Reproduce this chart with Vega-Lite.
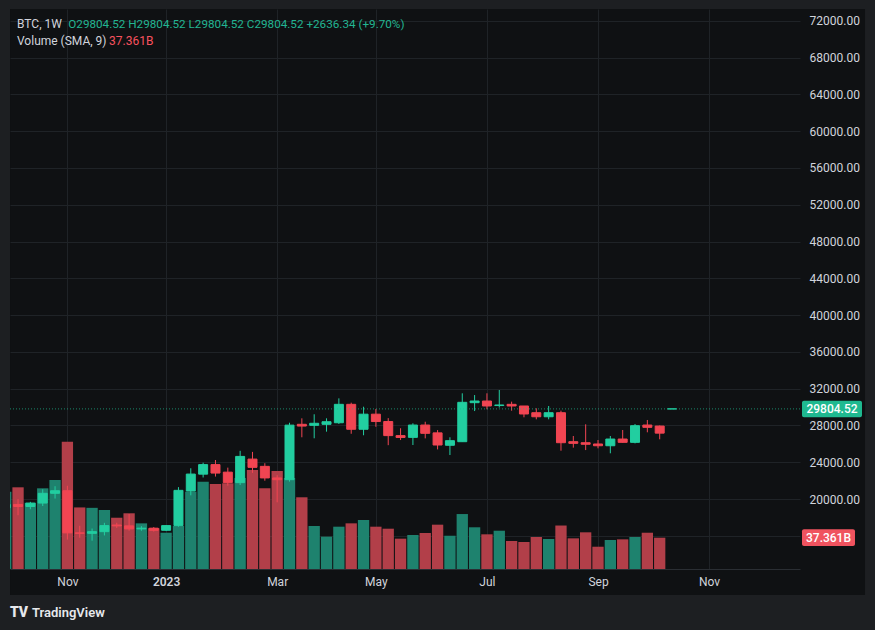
{
  "$schema": "https://vega.github.io/schema/vega-lite/v6.json",
  "width": 790,
  "height": 560,
  "autosize": {"type": "none"},
  "padding": {"left": 10, "top": 9, "right": 75, "bottom": 61},
  "background": "#0f1113",
  "config": {"view": {"stroke": null, "fill": "#0f1113"}, "scale": {"continuousPadding": 0}},
  "datasets": {
    "weekly": [
      {"date": "2022-10-03", "open": 19050, "high": 20480, "low": 19000, "close": 19420, "volume": 92.3},
      {"date": "2022-10-10", "open": 19420, "high": 20000, "low": 18250, "close": 19200, "volume": 97.5},
      {"date": "2022-10-17", "open": 19200, "high": 19700, "low": 18900, "close": 19560, "volume": 79.1},
      {"date": "2022-10-24", "open": 19570, "high": 21060, "low": 19250, "close": 20630, "volume": 96.3},
      {"date": "2022-10-31", "open": 20630, "high": 21400, "low": 20060, "close": 20910, "volume": 106.2},
      {"date": "2022-11-07", "open": 20910, "high": 21450, "low": 15600, "close": 16330, "volume": 151.9},
      {"date": "2022-11-14", "open": 16330, "high": 17100, "low": 15800, "close": 16280, "volume": 73.5},
      {"date": "2022-11-21", "open": 16280, "high": 16800, "low": 15480, "close": 16460, "volume": 73.0},
      {"date": "2022-11-28", "open": 16460, "high": 17420, "low": 16050, "close": 17120, "volume": 70.4},
      {"date": "2022-12-05", "open": 17180, "high": 17430, "low": 16870, "close": 17090, "volume": 61.2},
      {"date": "2022-12-12", "open": 17090, "high": 18380, "low": 16570, "close": 16760, "volume": 66.5},
      {"date": "2022-12-19", "open": 16760, "high": 17060, "low": 16560, "close": 16840, "volume": 54.5},
      {"date": "2022-12-26", "open": 16840, "high": 16960, "low": 16470, "close": 16610, "volume": 48.6},
      {"date": "2023-01-02", "open": 16610, "high": 17180, "low": 16520, "close": 17120, "volume": 43.3},
      {"date": "2023-01-09", "open": 17120, "high": 21300, "low": 17000, "close": 20950, "volume": 51.3},
      {"date": "2023-01-16", "open": 20880, "high": 23350, "low": 20410, "close": 22720, "volume": 92.3},
      {"date": "2023-01-23", "open": 22710, "high": 23960, "low": 22350, "close": 23750, "volume": 104.2},
      {"date": "2023-01-30", "open": 23750, "high": 24250, "low": 22450, "close": 22830, "volume": 101.5},
      {"date": "2023-02-06", "open": 22930, "high": 23420, "low": 21460, "close": 21790, "volume": 102.3},
      {"date": "2023-02-13", "open": 21790, "high": 25250, "low": 21530, "close": 24640, "volume": 108.6},
      {"date": "2023-02-20", "open": 24350, "high": 25130, "low": 22850, "close": 23450, "volume": 118.2},
      {"date": "2023-02-27", "open": 23560, "high": 23900, "low": 22000, "close": 22300, "volume": 96.3},
      {"date": "2023-03-06", "open": 22300, "high": 22600, "low": 19650, "close": 22110, "volume": 117.0},
      {"date": "2023-03-13", "open": 22110, "high": 28300, "low": 21900, "close": 28040, "volume": 108.6},
      {"date": "2023-03-20", "open": 28130, "high": 28780, "low": 26720, "close": 27940, "volume": 85.6},
      {"date": "2023-03-27", "open": 28020, "high": 29220, "low": 26610, "close": 28240, "volume": 51.3},
      {"date": "2023-04-03", "open": 28130, "high": 28780, "low": 27330, "close": 28410, "volume": 38.6},
      {"date": "2023-04-10", "open": 28300, "high": 30950, "low": 28170, "close": 30300, "volume": 50.5},
      {"date": "2023-04-17", "open": 30300, "high": 30480, "low": 27100, "close": 27590, "volume": 54.5},
      {"date": "2023-04-24", "open": 27590, "high": 30040, "low": 26940, "close": 29230, "volume": 58.5},
      {"date": "2023-05-01", "open": 29230, "high": 29800, "low": 27860, "close": 28430, "volume": 50.5},
      {"date": "2023-05-08", "open": 28430, "high": 28800, "low": 25860, "close": 26900, "volume": 48.1},
      {"date": "2023-05-15", "open": 26900, "high": 27700, "low": 26420, "close": 26700, "volume": 36.2},
      {"date": "2023-05-22", "open": 26710, "high": 28240, "low": 25880, "close": 28050, "volume": 40.6},
      {"date": "2023-05-29", "open": 28050, "high": 28410, "low": 26600, "close": 27150, "volume": 43.0},
      {"date": "2023-06-05", "open": 27200, "high": 27500, "low": 25400, "close": 25880, "volume": 52.9},
      {"date": "2023-06-12", "open": 25850, "high": 26720, "low": 24790, "close": 26350, "volume": 39.7},
      {"date": "2023-06-19", "open": 26240, "high": 31500, "low": 26240, "close": 30520, "volume": 65.6},
      {"date": "2023-06-26", "open": 30480, "high": 31310, "low": 29570, "close": 30660, "volume": 49.8},
      {"date": "2023-07-03", "open": 30660, "high": 31500, "low": 29760, "close": 30120, "volume": 41.4},
      {"date": "2023-07-10", "open": 30170, "high": 31860, "low": 29950, "close": 30230, "volume": 45.7},
      {"date": "2023-07-17", "open": 30300, "high": 30590, "low": 29610, "close": 30120, "volume": 33.4},
      {"date": "2023-07-24", "open": 30120, "high": 30120, "low": 28890, "close": 29250, "volume": 32.2},
      {"date": "2023-07-31", "open": 29390, "high": 29870, "low": 28670, "close": 28950, "volume": 38.2},
      {"date": "2023-08-07", "open": 28950, "high": 30120, "low": 28670, "close": 29390, "volume": 35.8},
      {"date": "2023-08-14", "open": 29390, "high": 29610, "low": 25260, "close": 26130, "volume": 51.9},
      {"date": "2023-08-21", "open": 26240, "high": 26860, "low": 25590, "close": 26060, "volume": 36.6},
      {"date": "2023-08-28", "open": 26130, "high": 28130, "low": 25330, "close": 25960, "volume": 43.8},
      {"date": "2023-09-04", "open": 25990, "high": 26420, "low": 25520, "close": 25800, "volume": 26.6},
      {"date": "2023-09-11", "open": 25800, "high": 26860, "low": 24980, "close": 26530, "volume": 34.6},
      {"date": "2023-09-18", "open": 26530, "high": 27510, "low": 26150, "close": 26170, "volume": 35.4},
      {"date": "2023-09-25", "open": 26170, "high": 28160, "low": 26060, "close": 27980, "volume": 38.2},
      {"date": "2023-10-02", "open": 28050, "high": 28600, "low": 27260, "close": 27800, "volume": 43.3},
      {"date": "2023-10-09", "open": 27940, "high": 28000, "low": 26500, "close": 27168.18, "volume": 37.361},
      {"date": "2023-10-16", "open": 29804.52, "high": 29804.52, "low": 29804.52, "close": 29804.52, "volume": 0}
    ]
  },
  "layer": [
    {
      "layer": [
        {
          "data": {"name": "weekly"},
          "mark": {"type": "bar", "size": 11.3, "clip": true},
          "encoding": {
            "x": {
              "field": "date", "type": "temporal",
              "scale": {"type": "utc", "nice": false, "padding": 0, "domain": [{"year": 2022, "month": 10, "date": 5, "hours": 10, "minutes": 31, "utc": true}, {"year": 2023, "month": 12, "date": 27, "hours": 14, "minutes": 10, "utc": true}]},
              "axis": {
                "values": [
                  {"year": 2022, "month": 11, "date": 7, "utc": true},
                  {"year": 2023, "month": 1, "date": 2, "utc": true},
                  {"year": 2023, "month": 3, "date": 6, "utc": true},
                  {"year": 2023, "month": 5, "date": 1, "utc": true},
                  {"year": 2023, "month": 7, "date": 3, "utc": true},
                  {"year": 2023, "month": 9, "date": 4, "utc": true},
                  {"year": 2023, "month": 11, "date": 6, "utc": true}
                ],
                "tickCount": 30,
                "labelExpr": "utcmonth(datum.value) == 0 ? utcFormat(datum.value, '%Y') : utcFormat(datum.value, '%b')",
                "labelFontWeight": {"condition": {"test": "utcmonth(datum.value) == 0", "value": 600}, "value": 400},
                "title": null,
                "orient": "bottom",
                "grid": true,
                "gridColor": "#1f2327",
                "gridWidth": 1,
                "domain": true,
                "domainColor": "#2a2e33",
                "ticks": false,
                "labelColor": "#d1d4dc",
                "labelFont": "Roboto",
                "labelFontSize": 12,
                "labelPadding": 7,
                "labelFlush": false,
                "labelOverlap": false
              }
            },
            "y": {"field": "volume", "type": "quantitative", "scale": {"domain": [0, 668.4], "nice": false, "zero": true, "padding": 0}, "axis": null},
            "color": {"condition": {"test": "datum.close >= datum.open", "value": "#1e826e"}, "value": "#b23f49"}
          }
        },
        {
          "data": {"values": [{"vol": 37.361, "label": "37.361B"}]},
          "mark": {"type": "rect", "color": "#f0535f", "cornerRadius": 2},
          "encoding": {
            "x": {"datum": {"year": 2023, "month": 12, "date": 28, "hours": 17, "minutes": 17, "utc": true}, "type": "temporal", "scale": {"type": "utc"}},
            "x2": {"datum": {"year": 2024, "month": 1, "date": 27, "hours": 18, "minutes": 58, "utc": true}},
            "y": {"datum": 47.4, "type": "quantitative", "scale": {"domain": [0, 668.4], "nice": false, "zero": true}, "axis": null},
            "y2": {"datum": 27.5}
          }
        },
        {
          "data": {"values": [{"vol": 37.361, "label": "37.361B"}]},
          "mark": {"type": "text", "align": "center", "baseline": "middle", "font": "Roboto", "fontSize": 12, "fontWeight": 500, "color": "#ffffff"},
          "encoding": {
            "x": {"datum": {"year": 2024, "month": 1, "date": 12, "hours": 18, "minutes": 14, "utc": true}, "type": "temporal", "scale": {"type": "utc"}},
            "y": {"field": "vol", "type": "quantitative", "scale": {"domain": [0, 668.4], "nice": false, "zero": true}, "axis": null},
            "text": {"field": "label"}
          }
        }
      ]
    },
    {
      "layer": [
        {
          "data": {"name": "weekly"},
          "mark": {"type": "rule", "strokeWidth": 1, "clip": true},
          "encoding": {
            "x": {"field": "date", "type": "temporal", "scale": {"type": "utc", "nice": false, "padding": 0, "domain": [{"year": 2022, "month": 10, "date": 5, "hours": 10, "minutes": 31, "utc": true}, {"year": 2023, "month": 12, "date": 27, "hours": 14, "minutes": 10, "utc": true}]}},
            "y": {
              "field": "low", "type": "quantitative",
              "scale": {"domain": [12402, 73272], "nice": false, "zero": false, "padding": 0},
              "axis": {
                "orient": "right",
                "values": [16000, 20000, 24000, 28000, 32000, 36000, 40000, 44000, 48000, 52000, 56000, 60000, 64000, 68000, 72000],
                "tickCount": 40,
                "labelExpr": "datum.value < 18000 ? '' : format(datum.value, '.2f')",
                "title": null,
                "grid": true,
                "gridColor": "#1f2327",
                "domain": false,
                "ticks": false,
                "labelAlign": "left",
                "labelPadding": 9,
                "labelColor": "#d1d4dc",
                "labelFont": "Roboto",
                "labelFontSize": 12,
                "labelOverlap": false
              }
            },
            "y2": {"field": "high"},
            "color": {"condition": {"test": "datum.close >= datum.open", "value": "#22cea0"}, "value": "#f14552"}
          }
        },
        {
          "data": {"name": "weekly"},
          "mark": {"type": "bar", "size": 9, "strokeWidth": 1, "clip": true},
          "encoding": {
            "x": {"field": "date", "type": "temporal", "scale": {"type": "utc", "nice": false, "padding": 0, "domain": [{"year": 2022, "month": 10, "date": 5, "hours": 10, "minutes": 31, "utc": true}, {"year": 2023, "month": 12, "date": 27, "hours": 14, "minutes": 10, "utc": true}]}},
            "y": {"field": "open", "type": "quantitative", "scale": {"domain": [12402, 73272], "nice": false, "zero": false, "padding": 0}},
            "y2": {"field": "close"},
            "color": {"condition": {"test": "datum.close >= datum.open", "value": "#22cea0"}, "value": "#f14552"},
            "stroke": {"condition": {"test": "datum.close >= datum.open", "value": "#22cea0"}, "value": "#f14552"}
          }
        },
        {
          "data": {"values": [{"last": 29804.52}]},
          "mark": {"type": "rule", "strokeDash": [1, 2], "strokeWidth": 1, "color": "#1fb990", "opacity": 0.7},
          "encoding": {
            "y": {"field": "last", "type": "quantitative", "scale": {"domain": [12402, 73272], "nice": false, "zero": false}}
          }
        },
        {
          "data": {"values": [{"last": 29804.52}]},
          "mark": {"type": "rect", "color": "#1fb990", "cornerRadius": 2},
          "encoding": {
            "x": {"datum": {"year": 2023, "month": 12, "date": 28, "hours": 17, "minutes": 17, "utc": true}, "type": "temporal", "scale": {"type": "utc"}},
            "x2": {"datum": {"year": 2024, "month": 1, "date": 31, "hours": 18, "minutes": 14, "utc": true}},
            "y": {"datum": 30694, "type": "quantitative", "scale": {"domain": [12402, 73272], "nice": false, "zero": false}},
            "y2": {"datum": 28890}
          }
        },
        {
          "data": {"values": [{"last": 29804.52}]},
          "mark": {"type": "text", "align": "center", "baseline": "middle", "font": "Roboto", "fontSize": 12, "fontWeight": 500, "color": "#ffffff"},
          "encoding": {
            "x": {"datum": {"year": 2024, "month": 1, "date": 14, "hours": 17, "minutes": 46, "utc": true}, "type": "temporal", "scale": {"type": "utc"}},
            "y": {"field": "last", "type": "quantitative", "scale": {"domain": [12402, 73272], "nice": false, "zero": false}},
            "text": {"field": "last", "format": ".2f"}
          }
        },
        {
          "data": {"values": [{"label": "BTC, 1W"}]},
          "mark": {"type": "text", "align": "left", "baseline": "middle", "font": "Roboto", "fontSize": 12, "color": "#d1d4dc"},
          "encoding": {
            "x": {"datum": {"year": 2022, "month": 10, "date": 9, "hours": 9, "minutes": 50, "utc": true}, "type": "temporal", "scale": {"type": "utc"}},
            "y": {"datum": 71641, "type": "quantitative", "scale": {"domain": [12402, 73272], "nice": false, "zero": false}},
            "text": {"field": "label"}
          }
        },
        {
          "data": {"values": [{"label": "O29804.52 H29804.52 L29804.52 C29804.52 +2636.34 (+9.70%)"}]},
          "mark": {"type": "text", "align": "left", "baseline": "middle", "font": "Roboto", "fontSize": 11.7, "color": "#22b592"},
          "encoding": {
            "x": {"datum": {"year": 2022, "month": 11, "date": 7, "hours": 12, "minutes": 0, "utc": true}, "type": "temporal", "scale": {"type": "utc"}},
            "y": {"datum": 71641, "type": "quantitative", "scale": {"domain": [12402, 73272], "nice": false, "zero": false}},
            "text": {"field": "label"}
          }
        },
        {
          "data": {"values": [{"label": "Volume (SMA, 9)"}]},
          "mark": {"type": "text", "align": "left", "baseline": "middle", "font": "Roboto", "fontSize": 12, "color": "#d1d4dc"},
          "encoding": {
            "x": {"datum": {"year": 2022, "month": 10, "date": 9, "hours": 9, "minutes": 50, "utc": true}, "type": "temporal", "scale": {"type": "utc"}},
            "y": {"datum": 69761, "type": "quantitative", "scale": {"domain": [12402, 73272], "nice": false, "zero": false}},
            "text": {"field": "label"}
          }
        },
        {
          "data": {"values": [{"label": "37.361B"}]},
          "mark": {"type": "text", "align": "left", "baseline": "middle", "font": "Roboto", "fontSize": 12, "color": "#f7525f"},
          "encoding": {
            "x": {"datum": {"year": 2022, "month": 11, "date": 30, "hours": 14, "minutes": 24, "utc": true}, "type": "temporal", "scale": {"type": "utc"}},
            "y": {"datum": 69761, "type": "quantitative", "scale": {"domain": [12402, 73272], "nice": false, "zero": false}},
            "text": {"field": "label"}
          }
        },
        {
          "data": {"values": [{"part": "frame"}]},
          "mark": {"type": "rect", "fill": "transparent", "stroke": "#1d1f22", "strokeWidth": 80},
          "encoding": {
            "x": {"datum": {"year": 2022, "month": 9, "date": 12, "hours": 18, "minutes": 0, "utc": true}, "type": "temporal", "scale": {"type": "utc"}},
            "x2": {"datum": {"year": 2024, "month": 2, "date": 25, "hours": 3, "minutes": 50, "utc": true}},
            "y": {"datum": 77620, "type": "quantitative", "scale": {"domain": [12402, 73272], "nice": false, "zero": false}},
            "y2": {"datum": 5226}
          }
        },
        {
          "data": {"values": [{"label": "TV"}]},
          "mark": {"type": "text", "align": "center", "baseline": "middle", "font": "Roboto", "fontSize": 14, "fontWeight": 900, "color": "#e6e8ec"},
          "encoding": {
            "x": {"datum": {"year": 2022, "month": 10, "date": 10, "hours": 13, "minutes": 0, "utc": true}, "type": "temporal", "scale": {"type": "utc"}},
            "y": {"datum": 7617, "type": "quantitative", "scale": {"domain": [12402, 73272], "nice": false, "zero": false}},
            "text": {"field": "label"}
          }
        },
        {
          "data": {"values": [{"label": "TradingView"}]},
          "mark": {"type": "text", "align": "left", "baseline": "middle", "font": "Roboto", "fontSize": 13, "fontWeight": 600, "color": "#e6e8ec"},
          "encoding": {
            "x": {"datum": {"year": 2022, "month": 10, "date": 17, "hours": 22, "minutes": 5, "utc": true}, "type": "temporal", "scale": {"type": "utc"}},
            "y": {"datum": 7617, "type": "quantitative", "scale": {"domain": [12402, 73272], "nice": false, "zero": false}},
            "text": {"field": "label"}
          }
        }
      ]
    }
  ],
  "resolve": {"scale": {"y": "independent"}}
}
